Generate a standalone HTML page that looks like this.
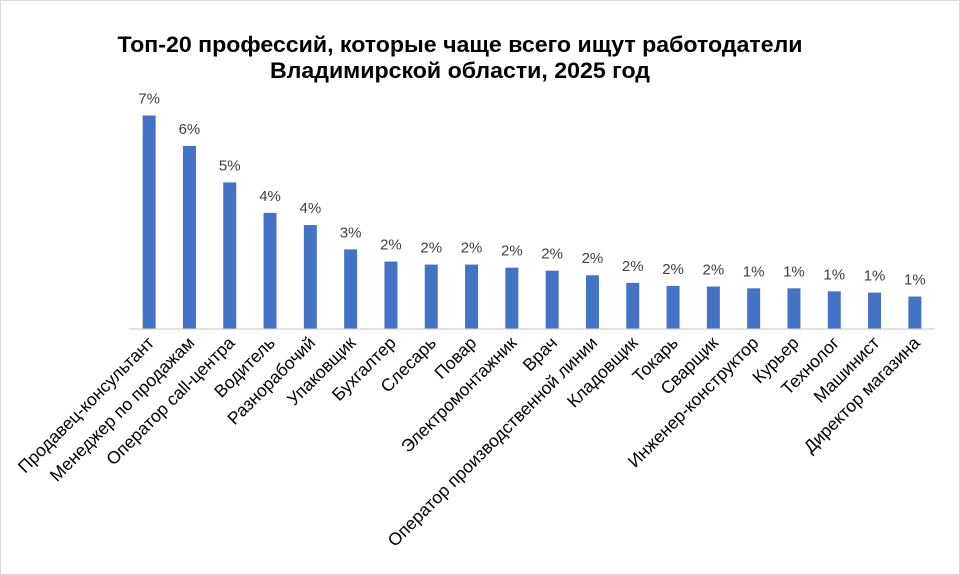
<!DOCTYPE html>
<html><head><meta charset="utf-8"><style>
html,body{margin:0;padding:0;background:#fff}
svg{display:block}
</style></head><body>
<svg id="chart" width="960" height="575" xmlns="http://www.w3.org/2000/svg" font-family="'Liberation Sans', sans-serif">
<rect x="0.5" y="0.5" width="959" height="574" fill="#fff" stroke="#d9d9d9"/>
<text x="460" y="52" text-anchor="middle" font-size="22" font-weight="bold" fill="#000" textLength="685" lengthAdjust="spacingAndGlyphs">Топ-20 профессий, которые чаще всего ищут работодатели</text>
<text x="460" y="78" text-anchor="middle" font-size="22" font-weight="bold" fill="#000" textLength="380" lengthAdjust="spacingAndGlyphs">Владимирской области, 2025 год</text>
<line x1="129" y1="329" x2="935" y2="329" stroke="#d9d9d9" stroke-width="1.5"/>
<g id="bars"></g>
</svg>
<script>
const categories = ["Продавец-консультант","Менеджер по продажам","Оператор call-центра","Водитель","Разнорабочий","Упаковщик","Бухгалтер","Слесарь","Повар","Электромонтажник","Врач","Оператор производственной линии","Кладовщик","Токарь","Сварщик","Инженер-конструктор","Курьер","Технолог","Машинист","Директор магазина"];
const values = [7.0,6.0,4.8,3.8,3.4,2.6,2.2,2.1,2.1,2.0,1.9,1.75,1.5,1.4,1.38,1.32,1.32,1.22,1.18,1.05];
const valueLabels = ["7%","6%","5%","4%","4%","3%","2%","2%","2%","2%","2%","2%","2%","2%","2%","1%","1%","1%","1%","1%"];
const NS="http://www.w3.org/2000/svg";
const g=document.getElementById('bars');
const x0=129, step=40.3, baseY=328.5, pxPer=30.43, bw=13;
function xScale(i){return x0+step*(i+0.5);}
function yScale(v){return baseY-v*pxPer;}
categories.forEach((c,i)=>{
  const cx=xScale(i), y=yScale(values[i]);
  const r=document.createElementNS(NS,'rect');
  r.setAttribute('x',cx-bw/2);r.setAttribute('y',y);r.setAttribute('width',bw);r.setAttribute('height',baseY-y);
  r.setAttribute('fill','#4472c4');
  
  
  g.appendChild(r);
  const t=document.createElementNS(NS,'text');
  t.setAttribute('x',cx);t.setAttribute('y',y-12);t.setAttribute('text-anchor','middle');
  t.setAttribute('font-size','15');t.setAttribute('fill','#404040');
  t.textContent=valueLabels[i];
  
  
  g.appendChild(t);
  const l=document.createElementNS(NS,'text');
  l.setAttribute('transform','translate('+(cx+6)+',344) rotate(-45)');
  l.setAttribute('text-anchor','end');l.setAttribute('font-size','17.5');l.setAttribute('fill','#000');
  l.textContent=c;
  
  
  g.appendChild(l);
});
</script>
</body></html>
